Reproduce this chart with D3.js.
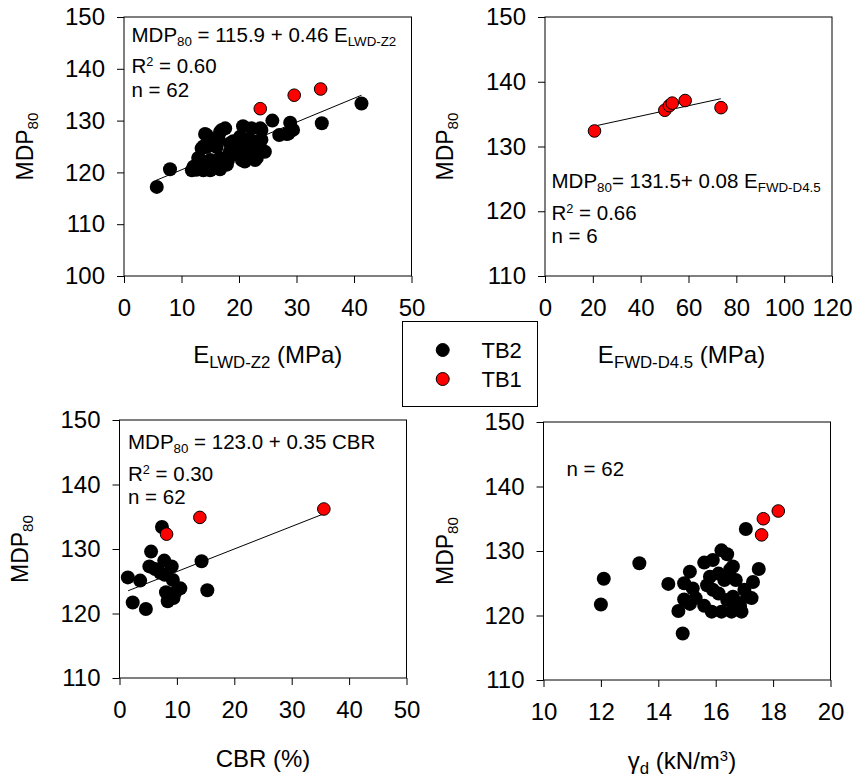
<!DOCTYPE html>
<html>
<head>
<meta charset="utf-8">
<script src="https://cdn.jsdelivr.net/npm/d3@7"></script>
<style>
  body { margin: 0; background: #fff; }
  svg { font-family: "Liberation Sans", Arial, sans-serif; }
</style>
</head>
<body>
<div id="container"></div>
<script>
// data  [x, MDP80]

const lwdTB2 = [[5.7,117.2],[8.0,120.6],[11.8,120.4],[12.6,120.5],[13.8,120.4],[15.0,120.4],[16.7,120.6],
  [12.1,121.1],[14.4,121.1],[16.1,121.5],[17.9,121.5],[13.2,122.4],[12.9,122.8],[15.0,122.4],[16.7,122.8],
  [17.3,121.7],[18.1,122.4],[20.5,122.4],[21.0,122.1],[23.1,122.8],[22.8,122.4],[21.6,123.1],[13.5,124.6],
  [13.8,125.0],[14.4,124.9],[16.1,124.9],[15.5,126.0],[16.4,126.6],[14.1,127.4],[14.4,127.2],[17.0,128.2],
  [17.6,128.5],[16.7,127.8],[18.4,124.0],[19.9,124.4],[21.9,124.4],[23.7,124.7],[24.5,124.0],[19.0,123.6],
  [20.2,123.6],[18.4,125.6],[19.0,126.0],[20.2,126.6],[21.3,126.3],[22.5,126.0],[23.9,126.3],[20.2,126.9],
  [20.7,128.9],[22.2,128.5],[23.7,128.5],[23.9,128.2],[25.8,130.0],[27.0,127.2],[28.3,127.4],[28.6,127.5],
  [28.9,129.6],[29.4,128.2],[34.4,129.5],[41.3,133.3]]
const lwdTB1 = [[23.7,132.3],[29.6,134.9],[34.2,136.1]]

const fwdTB1 = [[20.7,132.4],[50.1,135.6],[52.0,136.3],[53.2,136.7],[58.6,137.1],[73.6,136.0]]

const cbrTB2 = [[1.45,125.6],[2.3,121.7],[3.6,125.1],[4.6,120.7],[5.5,129.6],[5.2,127.3],[6.2,126.9],
  [7.1,126.3],[7.9,126.0],[7.4,133.4],[7.8,128.2],[9.1,127.3],[9.3,125.2],[8.1,123.3],[8.4,121.9],
  [9.4,122.4],[9.7,123.2],[10.6,123.9],[14.3,128.1],[15.3,123.6]]
const cbrTB1 = [[8.2,132.3],[14.0,134.9],[35.6,136.2]]

const gammaTB2 = [[12.0,121.7],[12.1,125.7],[13.34,128.1],[14.35,124.9],[14.85,117.2],[14.7,120.7],
  [14.9,125.0],[15.1,126.8],[15.2,124.2],[14.9,122.5],[15.1,121.8],[15.6,121.5],[15.6,128.2],[15.9,128.6],
  [16.2,130.1],[16.4,129.5],[16.6,127.6],[16.7,125.5],[15.8,126.0],[15.7,124.7],[15.9,124.0],[15.86,120.6],
  [16.2,120.6],[16.55,120.6],[16.9,120.6],[17.0,124.0],[17.1,122.9],[17.25,122.7],[17.3,125.2],[17.5,127.2],
  [17.05,133.4],[16.1,123.4],[16.4,122.4],[16.6,122.9],[16.8,121.9],[16.1,126.5],[16.3,125.5],[16.5,127.1],
  [15.3,122.7],[16.85,121.4]]
const gammaTB1 = [[17.6,132.5],[17.66,135.0],[18.18,136.2]]

// fits: [intercept, slope, xStart, xEnd]
const lwdFit = [115.9, 0.46, 5.5, 41.3]
const fwdFit = [131.5, 0.08, 21, 73.5]
const cbrFit = [123.0, 0.35, 1.5, 35.6]

// ticks
const lwdXTicks = [0, 10, 20, 30, 40, 50]
const fwdXTicks = [0, 20, 40, 60, 80, 100, 120]
const cbrXTicks = [0, 10, 20, 30, 40, 50]
const gammaXTicks = [10, 12, 14, 16, 18, 20]
const yTicksA = [100, 110, 120, 130, 140, 150]
const yTicksB = [110, 120, 130, 140, 150]

const legendItems = [["TB2", "#000"], ["TB1", "#ff0000"]]

// svg
const svg = d3.select("#container").append("svg")
  .attr("width", 853)
  .attr("height", 780)

// multi-part text: [text, "sub"|"sup"|null]
function richText(g, x, y, parts, size, anchor, ratio) {
  const r = ratio || 0.65
  const t = g.append("text").attr("x", x).attr("y", y)
    .attr("font-size", size).attr("text-anchor", anchor || "start")
  parts.forEach(p => {
    const s = t.append("tspan").text(p[0])
    if (p[1] === "sub") s.attr("font-size", size * r).attr("baseline-shift", "-30%")
    if (p[1] === "sup") s.attr("font-size", size * 0.62).attr("baseline-shift", "55%")
  })
  return t
}

function panel(o) {
  const x = d3.scaleLinear().domain(o.xDomain).range([o.left, o.right])
  const y = d3.scaleLinear().domain(o.yDomain).range([o.bottom, o.top])
  const g = svg.append("g")

  g.append("rect")
    .attr("x", o.left).attr("y", o.top)
    .attr("width", o.right - o.left).attr("height", o.bottom - o.top)
    .attr("fill", "none").attr("stroke", "#000").attr("stroke-width", 1)

  const ax = g.append("g").attr("transform", `translate(0,${o.bottom})`)
    .call(d3.axisBottom(x).tickValues(o.xTicks).tickSize(7).tickPadding(16).tickSizeOuter(0))
  const ay = g.append("g").attr("transform", `translate(${o.left},0)`)
    .call(d3.axisLeft(y).tickValues(o.yTicks).tickSize(7).tickPadding(12).tickSizeOuter(0))
  ;[ax, ay].forEach(a => {
    a.select(".domain").remove()
    a.selectAll("text").attr("font-size", 24).attr("font-family", "Liberation Sans, Arial, sans-serif").attr("fill", "#000")
    a.selectAll("line").attr("stroke", "#000")
  })

  if (o.fit) {
    const f = o.fit
    g.append("line")
      .attr("x1", x(f[2])).attr("y1", y(f[0] + f[1] * f[2]))
      .attr("x2", x(f[3])).attr("y2", y(f[0] + f[1] * f[3]))
      .attr("stroke", "#000").attr("stroke-width", 1)
  }

  g.selectAll(null).data(o.black).join("circle")
    .attr("cx", d => x(d[0])).attr("cy", d => y(d[1])).attr("r", 7)
    .attr("fill", "#000")
  g.selectAll(null).data(o.red).join("circle")
    .attr("cx", d => x(d[0])).attr("cy", d => y(d[1])).attr("r", 6.3)
    .attr("fill", "#ff0000").attr("stroke", "#000").attr("stroke-width", 1)

  // y title
  const yt = g.append("g").attr("transform", `translate(${o.yTitleX},${(o.top + o.bottom) / 2}) rotate(-90)`)
  richText(yt, 0, 0, [["MDP", null], ["80", "sub"]], 23, "middle", 0.66)

  // x title
  richText(g, (o.left + o.right) / 2 + (o.xTitleDx || 0), o.xTitleY, o.xTitle, 24, "middle", 0.7)

  o.notes.forEach(n => richText(g, n.x, n.y, n.parts, 20.5, "start", 0.65))
}

panel({
  left: 124, right: 411.5, top: 17, bottom: 276,
  xDomain: [0, 50], yDomain: [100, 150], xTicks: lwdXTicks, yTicks: yTicksA,
  black: lwdTB2, red: lwdTB1, fit: lwdFit,
  yTitleX: 33, xTitleY: 363, xTitleDx: 0,
  xTitle: [["E", null], ["LWD-Z2", "sub"], [" (MPa)", null]],
  notes: [
    { x: 131.5, y: 41.5, parts: [["MDP", null], ["80", "sub"], [" = 115.9 + 0.46 E", null], ["LWD-Z2", "sub"]] },
    { x: 131.5, y: 73.3, parts: [["R", null], ["2", "sup"], [" = 0.60", null]] },
    { x: 131.5, y: 96.7, parts: [["n = 62", null]] }
  ]
})

panel({
  left: 545, right: 832, top: 17, bottom: 276,
  xDomain: [0, 120], yDomain: [110, 150], xTicks: fwdXTicks, yTicks: yTicksB,
  black: [], red: fwdTB1, fit: fwdFit,
  yTitleX: 453, xTitleY: 363, xTitleDx: -7,
  xTitle: [["E", null], ["FWD-D4.5", "sub"], [" (MPa)", null]],
  notes: [
    { x: 551.5, y: 188.3, parts: [["MDP", null], ["80", "sub"], ["= 131.5+ 0.08 E", null], ["FWD-D4.5", "sub"]] },
    { x: 551.5, y: 220, parts: [["R", null], ["2", "sup"], [" = 0.66", null]] },
    { x: 551.5, y: 243.3, parts: [["n = 6", null]] }
  ]
})

panel({
  left: 119.5, right: 406.5, top: 420, bottom: 678,
  xDomain: [0, 50], yDomain: [110, 150], xTicks: cbrXTicks, yTicks: yTicksB,
  black: cbrTB2, red: cbrTB1, fit: cbrFit,
  yTitleX: 28, xTitleY: 767,
  xTitle: [["CBR (%)", null]],
  notes: [
    { x: 128, y: 449, parts: [["MDP", null], ["80", "sub"], [" = 123.0 + 0.35 CBR", null]] },
    { x: 128, y: 481, parts: [["R", null], ["2", "sup"], [" = 0.30", null]] },
    { x: 128, y: 504, parts: [["n = 62", null]] }
  ]
})

panel({
  left: 543.5, right: 830.5, top: 422, bottom: 680,
  xDomain: [10, 20], yDomain: [110, 150], xTicks: gammaXTicks, yTicks: yTicksB,
  black: gammaTB2, red: gammaTB1, fit: null,
  yTitleX: 453, xTitleY: 769, xTitleDx: -5,
  xTitle: [["γ", null], ["d", "sub"], [" (kN/m", null], ["3", "sup"], [")", null]],
  notes: [
    { x: 566.5, y: 476, parts: [["n = 62", null]] }
  ]
})

// legend
const lg = svg.append("g")
lg.append("rect").attr("x", 402.5).attr("y", 321.5).attr("width", 135).attr("height", 85)
  .attr("fill", "#fff").attr("stroke", "#000").attr("stroke-width", 1)
lg.selectAll("circle").data(legendItems).join("circle")
  .attr("cx", 442.7).attr("cy", (d, i) => 350 + i * 29).attr("r", 6.5)
  .attr("fill", d => d[1]).attr("stroke", "#000").attr("stroke-width", 1)
lg.selectAll("text").data(legendItems).join("text")
  .attr("x", 481.5).attr("y", (d, i) => 350 + i * 29).attr("dy", "0.36em")
  .attr("font-size", 22).text(d => d[0])
</script>
</body>
</html>
